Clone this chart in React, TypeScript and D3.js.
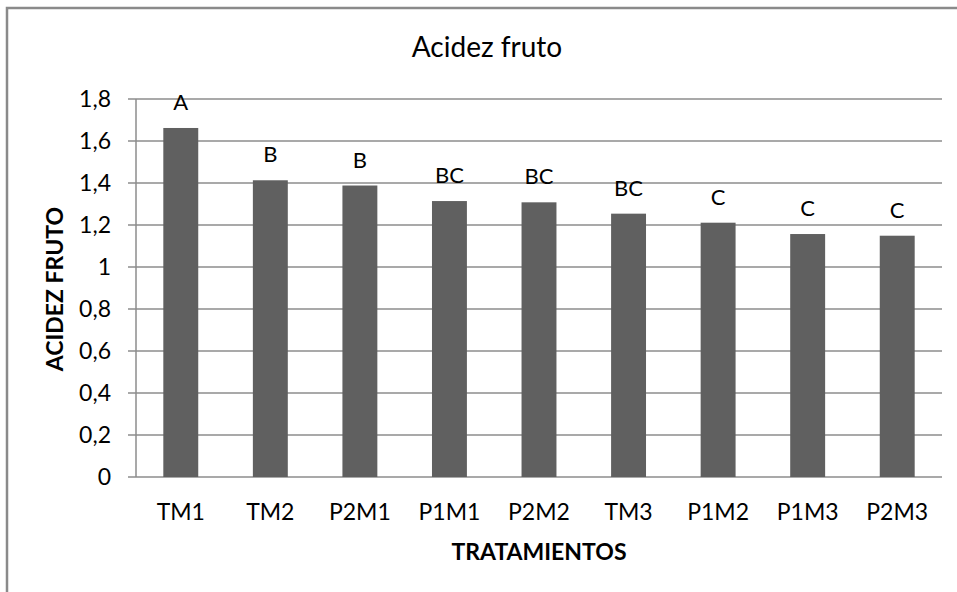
import React, { useEffect } from "react";
import * as d3 from "d3";

const categories = ["TM1", "TM2", "P2M1", "P1M1", "P2M2", "TM3", "P1M2", "P1M3", "P2M3"];
const values = [1.662, 1.413, 1.388, 1.314, 1.308, 1.254, 1.211, 1.157, 1.149];
const groupLetters = ["A", "B", "B", "BC", "BC", "BC", "C", "C", "C"];
const yTicks = [0, 0.2, 0.4, 0.6, 0.8, 1, 1.2, 1.4, 1.6, 1.8];

const W = 957;
const H = 592;
const plotLeft = 136;
const plotRight = 942;
const plotTop = 99;
const plotBottom = 477;
const FONT = "Lato, 'Open Sans', 'DejaVu Sans', sans-serif";

const fmt = (v: number) => (v === 0 || v === 1 ? String(v) : v.toFixed(1).replace(".", ","));

export default function App() {
  useEffect(() => {
    document.body.style.margin = "0";
  }, []);

  const x = d3
    .scaleBand<string>()
    .domain(categories)
    .range([plotLeft, plotRight])
    .paddingInner(0.61)
    .paddingOuter(0.305);
  const y = d3.scaleLinear().domain([0, 1.8]).range([plotBottom, plotTop]);

  return (
    <svg
      width={W}
      height={H}
      style={{ position: "absolute", left: 0, top: 0, background: "#fff" }}
      fontFamily={FONT}
    >
      <rect x={0} y={0} width={W} height={H} fill="#fff" />
      <rect x={7} y={8} width={1100} height={800} fill="none" stroke="#8a8a8a" strokeWidth={2.5} />

      <text x={487} y={57} textAnchor="middle" fontSize={28} fill="#000">
        Acidez fruto
      </text>

      {/* gridlines */}
      {yTicks.map((t) => (
        <line
          key={"g" + t}
          x1={plotLeft - 8}
          x2={plotRight}
          y1={y(t)}
          y2={y(t)}
          stroke="#8c8c8c"
          strokeWidth={1.5}
        />
      ))}
      <line x1={plotLeft} x2={plotLeft} y1={plotTop} y2={plotBottom} stroke="#8c8c8c" strokeWidth={1.5} />

      {/* y tick labels */}
      {yTicks.map((t) => (
        <text
          key={"yt" + t}
          x={111}
          y={y(t)}
          dy="0.36em"
          textAnchor="end"
          fontSize={23}
          fill="#000"
        >
          {fmt(t)}
        </text>
      ))}

      {/* bars */}
      {categories.map((c, i) => (
        <rect
          key={"b" + c}
          x={x(c)}
          y={y(values[i])}
          width={x.bandwidth()}
          height={y(0) - y(values[i])}
          fill="#606060"
        />
      ))}

      {/* letters */}
      {categories.map((c, i) => (
        <text
          key={"l" + c}
          x={(x(c) as number) + x.bandwidth() / 2}
          y={y(values[i]) - 18}
          textAnchor="middle"
          fontSize={22}
          fill="#000"
        >
          {groupLetters[i]}
        </text>
      ))}

      {/* x tick labels */}
      {categories.map((c) => (
        <text
          key={"xt" + c}
          x={(x(c) as number) + x.bandwidth() / 2}
          y={520}
          textAnchor="middle"
          fontSize={23}
          fill="#000"
        >
          {c}
        </text>
      ))}

      <text x={539} y={560} textAnchor="middle" fontSize={23} fontWeight="bold" fill="#000">
        TRATAMIENTOS
      </text>
      <text
        transform="translate(63,289) rotate(-90)"
        textAnchor="middle"
        fontSize={23}
        fontWeight="bold"
        fill="#000"
      >
        ACIDEZ FRUTO
      </text>
    </svg>
  );
}
